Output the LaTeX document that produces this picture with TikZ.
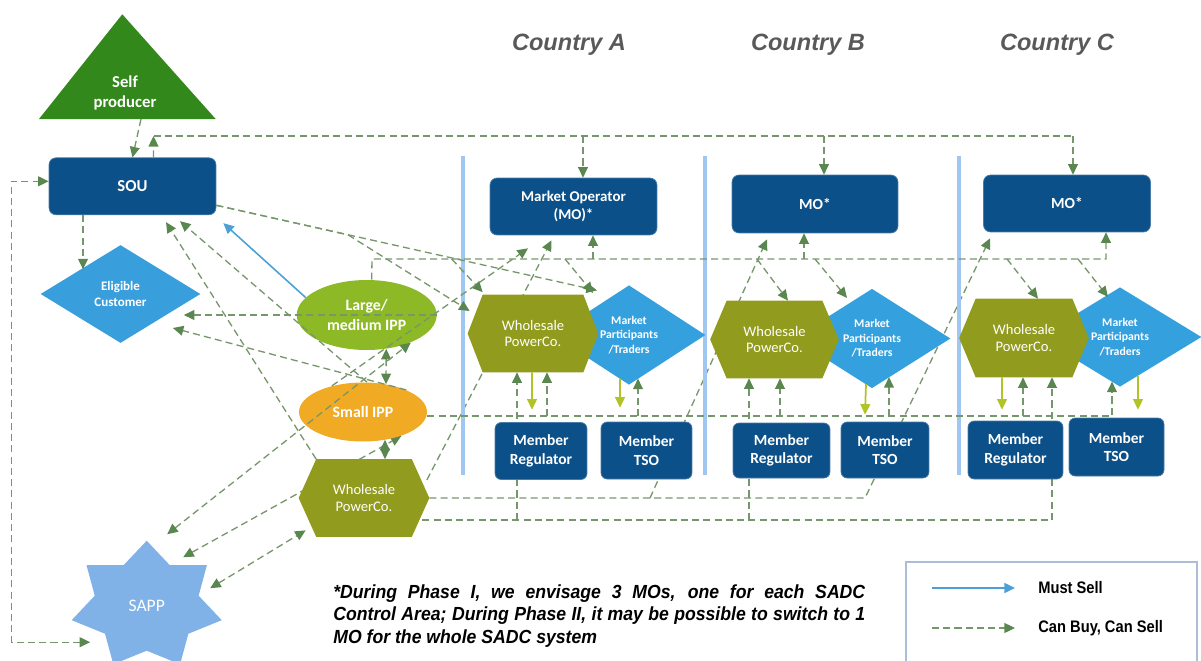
\documentclass[tikz,border=0pt]{standalone}
\usepackage{fontspec}
\setmainfont{Carlito}
\newfontfamily\titlefont{Liberation Sans}
\newfontfamily\notefont[FakeStretch=0.93]{Liberation Sans}
\newfontfamily\legfont[FakeStretch=0.88]{Liberation Sans}
\usetikzlibrary{shapes.geometric,arrows.meta}

\definecolor{dkblue}{RGB}{12,80,137}
\definecolor{selfgreen}{RGB}{50,136,26}
\definecolor{ecblue}{RGB}{56,158,220}
\definecolor{mpblue}{RGB}{53,160,222}
\definecolor{lippgreen}{RGB}{142,185,38}
\definecolor{sippyellow}{RGB}{240,170,36}
\definecolor{hexolive}{RGB}{145,155,30}
\definecolor{sappblue}{RGB}{128,178,232}
\definecolor{barclr}{RGB}{160,198,242}
\definecolor{titlegrey}{RGB}{89,89,89}
\definecolor{lnclr}{RGB}{118,150,108}
\definecolor{arrclr}{RGB}{90,135,80}
\definecolor{ygclr}{RGB}{176,196,40}
\definecolor{mustclr}{RGB}{75,160,214}
\definecolor{legclr}{RGB}{170,190,215}

\pgfdeclarelayer{bg}
\pgfdeclarelayer{shapes}
\pgfdeclarelayer{fg}
\pgfsetlayers{bg,shapes,main,fg}

\tikzset{
  cbline/.style={draw=lnclr, line width=0.75pt, dash pattern=on 4pt off 2.4pt},
  cb/.style={cbline, -{Triangle[length=6pt,width=5.6pt,color=arrclr]}},
  cbb/.style={cbline, {Triangle[length=6pt,width=5.6pt,color=arrclr]}-{Triangle[length=6pt,width=5.6pt,color=arrclr]}},
  yg/.style={draw=ygclr, line width=1pt, -{Triangle[length=6pt,width=5.6pt,color=ygclr]}},
  must/.style={draw=mustclr, line width=0.9pt, -{Triangle[length=6pt,width=5.6pt,color=mustclr]}},
  box/.style={rectangle, rounded corners=4pt, fill=dkblue, draw=dkblue!75!white, line width=0.4pt,
    text=white, align=center, inner sep=0pt},
  hexbox/.style={rectangle, inner sep=0pt, text=white, align=center,
    font=\fontsize{8.3}{9.6}\selectfont, minimum height=1.54cm},
  mpdia/.style={diamond, aspect=1.55, inner sep=0pt, text=white, align=center,
    font=\bfseries\fontsize{6.7}{8.2}\selectfont, minimum height=1.97cm},
  country/.style={font=\titlefont\bfseries\itshape\fontsize{13.4}{16}\selectfont, text=titlegrey},
  legtext/.style={anchor=west, inner sep=0pt, font=\legfont\bfseries\fontsize{9.5}{11}\selectfont},
}

% hexagon outline around a rectangular text node
\newcommand\hexfill[2]{\fill[hexolive] (#1.north west) -- (#1.north east) -- ([xshift=#2]#1.east)
  -- (#1.south east) -- (#1.south west) -- ([xshift=-#2]#1.west) -- cycle;}
\newcommand\diafill[1]{\fill[mpblue] (#1.north) -- (#1.east) -- (#1.south) -- (#1.west) -- cycle;}

\begin{document}
\begin{tikzpicture}[x=0.02cm,y=-0.02cm]
\useasboundingbox (0,0) rectangle (1201,660);

% ---------- left-hand actors ----------
\node[font=\bfseries\fontsize{9.5}{11.6}\selectfont, text=white, align=center] (selfp) at (125,93) {Self\\producer};
\coordinate (selfbase) at (141,119);
\node[box, minimum width=3.34cm, minimum height=1.14cm, font=\bfseries\fontsize{9.5}{11.6}\selectfont] (sou) at (132.5,186.3) {SOU};
\node[diamond, aspect=1.63, minimum width=3.2cm, minimum height=1.96cm, inner sep=0pt, fill=ecblue,
  text=white, align=center, font=\bfseries\fontsize{7.4}{9}\selectfont] (ec) at (120.5,294) {Eligible\\Customer};
\node[ellipse, minimum width=2.8cm, minimum height=1.4cm, inner sep=0pt, fill=lippgreen, text=white,
  align=center, font=\bfseries\fontsize{9}{11.3}\selectfont] (lipp) at (366.7,315) {Large/\\medium IPP};
\node[ellipse, minimum width=2.56cm, minimum height=1.18cm, inner sep=0pt, fill=sippyellow, text=white,
  font=\bfseries\fontsize{9}{11}\selectfont] (sipp) at (363,412) {Small IPP};
\node[hexbox, minimum width=1.9cm] (whL) at (364,498) {Wholesale\\PowerCo.};
\node[circle, minimum size=2cm, inner sep=0pt, text=white, font=\fontsize{10}{12}\selectfont] (sapp) at (146.7,605.7) {SAPP};

% ---------- country columns ----------
\node[country] (ctA) at (569,45) {Country A};
\node[country] (ctB) at (808,45) {Country B};
\node[country] (ctC) at (1057,45) {Country C};

\node[box, minimum width=3.34cm, minimum height=1.14cm, font=\bfseries\fontsize{8.5}{10.4}\selectfont] (moA) at (573.5,206.5) {Market Operator\\(MO)*};
\node[box, minimum width=3.32cm, minimum height=1.16cm, font=\bfseries\fontsize{8.8}{10.6}\selectfont] (moB) at (815,204) {MO*};
\node[box, minimum width=3.34cm, minimum height=1.14cm, font=\bfseries\fontsize{8.8}{10.6}\selectfont] (moC) at (1067,203.5) {MO*};

\node[mpdia, minimum width=3.04cm] (mpA) at (629,335) {Market\\Participants\\/Traders};
\node[mpdia, minimum width=3.12cm] (mpB) at (872,338.5) {Market\\Participants\\/Traders};
\node[mpdia, minimum width=3.24cm] (mpC) at (1120,337) {Market\\Participants\\/Traders};

\node[hexbox, minimum width=2.0cm] (whA) at (533,333.5) {Wholesale\\PowerCo.};
\node[hexbox, minimum width=1.9cm] (whB) at (774.5,339.5) {Wholesale\\PowerCo.};
\node[hexbox, minimum width=1.92cm, minimum height=1.56cm] (whC) at (1024,338) {Wholesale\\PowerCo.};

\tikzset{mem/.style={box, rounded corners=3.5pt, font=\bfseries\fontsize{8.8}{10.6}\selectfont}}
\node[mem, minimum width=1.84cm, minimum height=1.14cm] (mrA) at (541,451) {Member\\Regulator};
\node[mem, minimum width=1.82cm, minimum height=1.14cm] (tsoA) at (646.5,450.5) {Member\\TSO};
\node[mem, minimum width=1.94cm, minimum height=1.10cm] (mrB) at (781.5,450.5) {Member\\Regulator};
\node[mem, minimum width=1.76cm, minimum height=1.12cm] (tsoB) at (885,450) {Member\\TSO};
\node[mem, minimum width=1.90cm, minimum height=1.16cm] (mrC) at (1015.5,450) {Member\\Regulator};
\node[mem, minimum width=1.90cm, minimum height=1.16cm] (tsoC) at (1116.5,447) {Member\\TSO};

% ---------- filled outlines behind the texts ----------
\begin{pgfonlayer}{shapes}
  \fill[selfgreen] (39,119) -- (122.3,14.3) -- (215.7,119) -- cycle;
  \fill[barclr] (461,156) rectangle (465,475);
  \fill[barclr] (703,156) rectangle (707,475);
  \fill[barclr] (957,156) rectangle (961,475);
  \diafill{mpA} \diafill{mpB} \diafill{mpC}
  \hexfill{whL}{0.35cm}
  \hexfill{whA}{0.3cm}
  \hexfill{whB}{0.33cm}
  \hexfill{whC}{0.33cm}
  \begin{scope}[shift={(sapp.center)}]
    \fill[sappblue] (90:1.54cm and 1.3cm) -- (115.71:1.066cm and 0.9cm) -- (141.43:1.54cm and 1.3cm)
      -- (167.14:1.066cm and 0.9cm) -- (192.86:1.54cm and 1.3cm) -- (218.57:1.066cm and 0.9cm)
      -- (244.29:1.54cm and 1.3cm) -- (270:1.066cm and 0.9cm) -- (295.71:1.54cm and 1.3cm)
      -- (321.43:1.066cm and 0.9cm) -- (347.14:1.54cm and 1.3cm) -- (12.86:1.066cm and 0.9cm)
      -- (38.57:1.54cm and 1.3cm) -- (64.29:1.066cm and 0.9cm) -- cycle;
  \end{scope}
\end{pgfonlayer}

% ---------- helper coordinates for the shared trunk lines ----------
\coordinate (topL) at (153.5,136);
\coordinate (mktrow) at (372,259);
\coordinate (soubend) at (348,234.8);
\coordinate (midrow) at ([yshift=-0.08cm]sipp.east);
\coordinate (botrow) at ([xshift=0.21cm,yshift=-0.44cm]whL.east);
\coordinate (turnB) at (650,498);
\coordinate (turnC) at (865,498);

% ---------- connectors hidden behind boxes ----------
\begin{pgfonlayer}{bg}
  \draw[cb] ([xshift=0.3cm,yshift=0.36cm]whL.east) -- ([xshift=-0.44cm,yshift=-0.1cm]moA.south);
  \draw[cb] ([xshift=0.35cm]whL.east) -- (turnC) -- ([xshift=-1.54cm,yshift=-0.12cm]moC.south);
  \draw[cb] (turnB) -- ([xshift=-0.96cm,yshift=-0.12cm]moB.south);
  \draw[cb] (botrow) -| ([xshift=0.56cm]whC.south);
  \draw[cb] ([xshift=-0.32cm]whA.south |- botrow) -- ([xshift=-0.32cm]whA.south);
  \draw[cb] ([xshift=-0.51cm]whB.south |- botrow) -- ([xshift=-0.51cm]whB.south);
  \draw[cbb] ([xshift=0.73cm,yshift=0.97cm]sapp.center) -- (sipp.-32);
\end{pgfonlayer}

% ---------- connectors ----------
\draw[cb] (selfbase) -- (sou.north);
\draw[cb] ([xshift=0.42cm]sou.north) -- (topL);
\draw[cbline] (topL) -- ([xshift=0.12cm]moC.north |- topL);
\draw[cb] ([xshift=0.19cm]moA.north |- topL) -- ([xshift=0.19cm]moA.north);
\draw[cb] ([xshift=0.18cm]moB.north |- topL) -- ([xshift=0.18cm]moB.north);
\draw[cb] ([xshift=0.12cm]moC.north |- topL) -- ([xshift=0.12cm]moC.north);

\draw[cb] ([xshift=-0.99cm]sou.south) -- ([xshift=-0.99cm]sou.south |- ec.north west);
\draw[cbb] ([xshift=-1.13cm,yshift=-0.73cm]sapp.center) -- ++(-79,0) |- ([yshift=0.1cm]sou.west);
\draw[must] (lipp.164) -- ([xshift=0.14cm,yshift=-0.16cm]sou.south east);
\draw[cb] (whL.north west) -- ([xshift=0.67cm,yshift=-0.14cm]sou.south);
\draw[cb] ([yshift=-0.38cm]sou.east) -- ([xshift=-0.64cm,yshift=-0.1cm]mpA.north);
\draw[cb] ([yshift=-0.38cm]sou.east) -- (soubend) -- ([xshift=-0.26cm,yshift=0.45cm]whA.west);
\draw[cb] (sipp.27) -- ([xshift=-0.56cm,yshift=-0.68cm]ec.east);

% market trunk from the large IPP
\draw[cb] ([xshift=0.1cm]lipp.north) -- (mktrow) -| ([xshift=0.78cm]moC.south);
\draw[cb] ([xshift=0.39cm]moA.south |- mktrow) -- ([xshift=0.39cm]moA.south);
\draw[cb] ([xshift=-0.22cm]moB.south |- mktrow) -- ([xshift=-0.22cm]moB.south);
\draw[cb] ([xshift=-0.62cm]whA.north west |- mktrow) -- ([yshift=0.05cm]whA.north west);
\draw[cb] ([xshift=-1.28cm]mpA.north |- mktrow) -- ([xshift=-0.72cm,yshift=-0.15cm]mpA.north);
\draw[cb] ([xshift=-0.35cm]whB.north |- mktrow) -- ([xshift=0.27cm]whB.north);
\draw[cb] ([xshift=-1.14cm]mpB.north |- mktrow) -- ([xshift=-0.5cm,yshift=-0.18cm]mpB.north);
\draw[cb] ([xshift=-0.34cm]whC.north |- mktrow) -- ([xshift=0.28cm]whC.north);
\draw[cb] ([xshift=-0.84cm]mpC.north |- mktrow) -- ([xshift=-0.24cm,yshift=-0.19cm]mpC.north);

% trunk from the small IPP
\draw[cb] (midrow) -| ([xshift=-0.16cm,yshift=0.1cm]mpC.south);
\draw[cb] ([xshift=0.28cm]whA.south |- midrow) -- ([xshift=0.28cm]whA.south);
\draw[cb] ([xshift=0.18cm]mpA.south |- midrow) -- ([xshift=0.18cm,yshift=0.12cm]mpA.south);
\draw[cb] ([xshift=0.11cm]whB.south |- midrow) -- ([xshift=0.11cm]whB.south);
\draw[cb] ([xshift=0.34cm]mpB.south |- midrow) -- ([xshift=0.34cm,yshift=0.22cm]mpB.south);
\draw[cb] ([xshift=-0.02cm]whC.south |- midrow) -- ([xshift=-0.02cm]whC.south);

% solid links to the member bodies
\draw[yg] ([xshift=-0.02cm]whA.south) -- ([xshift=-0.18cm,yshift=0.25cm]mrA.north);
\draw[yg] ([xshift=-0.18cm,yshift=0.12cm]mpA.south) -- ([xshift=-0.53cm,yshift=0.28cm]tsoA.north);
\draw[yg] ([xshift=-0.12cm,yshift=0.08cm]mpB.south) -- ([xshift=-0.4cm,yshift=0.14cm]tsoB.north);
\draw[yg] ([xshift=-0.44cm]whC.south) -- ([xshift=-0.27cm,yshift=0.22cm]mrC.north);
\draw[yg] ([xshift=0.36cm,yshift=0.22cm]mpC.south) -- ([xshift=0.43cm,yshift=0.16cm]tsoC.north);

\draw[cbb] ([xshift=0.39cm,yshift=0.03cm]lipp.south) -- ([xshift=0.46cm,yshift=-0.04cm]sipp.north);
\draw[cbb] ([xshift=0.44cm,yshift=0.04cm]sipp.south) -- ([xshift=0.42cm]whL.north);
\draw[cbb] ([xshift=1.27cm,yshift=0.35cm]sapp.center) -- ([xshift=-0.21cm,yshift=0.13cm]whL.south west);

% ---------- connectors drawn across the IPP ellipses ----------
\begin{pgfonlayer}{fg}
  \draw[cb] (lipp.east) -- ([xshift=-0.34cm]ec.east |- lipp.east);
  \draw[cb] ([xshift=0.08cm]sipp.north) -- ([xshift=0.95cm,yshift=-0.12cm]sou.south);
  \draw[cb] (sipp.140) -- ([xshift=-0.91cm,yshift=-0.26cm]moA.south);
  \draw[cbb] ([xshift=0.41cm,yshift=1.43cm]sapp.center) -- (lipp.-32);
\end{pgfonlayer}

% ---------- footnote ----------
\node[anchor=north west, text width=10.64cm, align=justify, inner sep=0pt,
  font=\notefont\bfseries\itshape\fontsize{10.8}{12.8}\selectfont] (note) at (333,584)
  {*During Phase I, we envisage 3 MOs, one for each SADC\linebreak
   Control Area; During Phase II, it may be possible to switch to 1\linebreak
   MO for the whole SADC system};

% ---------- legend ----------
\draw[draw=legclr, line width=1.5pt] (906,562) rectangle (1197,700);
\coordinate (lgA1) at (932,588);
\coordinate (lgA2) at (1015,588);
\coordinate (lgB1) at (932,628);
\coordinate (lgB2) at (1015,628);
\draw[must] (lgA1) -- (lgA2);
\draw[cb] (lgB1) -- (lgB2);
\node[legtext] (lgAt) at (1038,588) {Must Sell};
\node[legtext] (lgBt) at (1038,628) {Can Buy, Can Sell};
\end{tikzpicture}
\end{document}
